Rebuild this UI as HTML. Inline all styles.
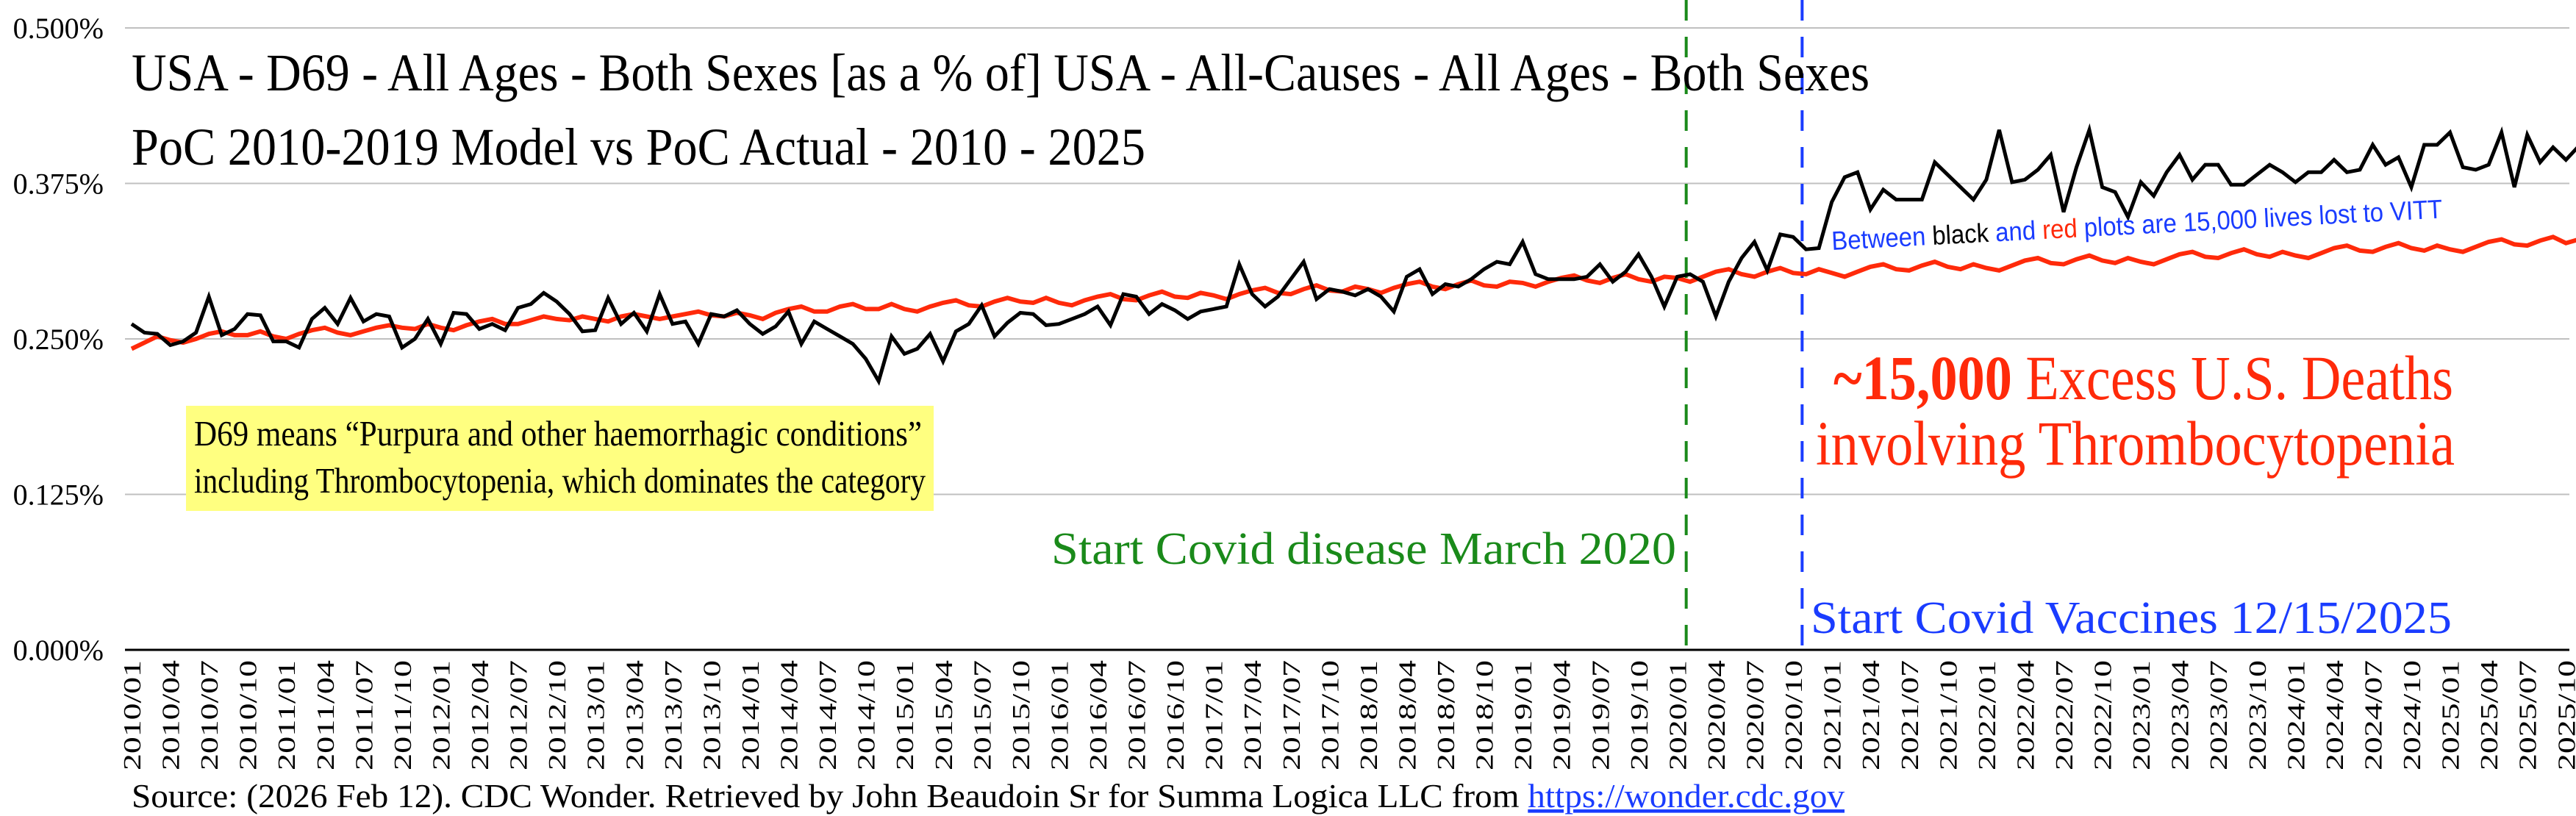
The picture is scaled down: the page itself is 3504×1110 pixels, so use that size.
<!DOCTYPE html>
<html><head><meta charset="utf-8">
<style>
html,body{margin:0;padding:0;background:#fff;}
svg{display:block;}
text{font-family:"Liberation Serif",serif;}
</style></head>
<body>
<svg id="chart" width="3504" height="1110" viewBox="0 0 3504 1110" xmlns="http://www.w3.org/2000/svg">
<g id="grid"></g>
<g id="ylabels"></g>
<g id="xlabels"></g>
<line x1="170" y1="884" x2="3495" y2="884" stroke="#000" stroke-width="3"/>
<g id="vlines"></g>
<g id="series"></g>

<text x="179" y="123" font-size="72" textLength="2364" lengthAdjust="spacingAndGlyphs">USA - D69 - All Ages - Both Sexes [as a % of] USA - All-Causes - All Ages - Both Sexes</text>
<text x="179" y="224" font-size="72" textLength="1379" lengthAdjust="spacingAndGlyphs">PoC 2010-2019 Model vs PoC Actual - 2010 - 2025</text>

<g>
<rect x="253" y="552" width="1017" height="143" fill="#ffff80"/>
<text x="264" y="606" font-size="49" textLength="990" lengthAdjust="spacingAndGlyphs">D69 means “Purpura and other haemorrhagic conditions”</text>
<text x="264" y="670" font-size="49" textLength="995" lengthAdjust="spacingAndGlyphs">including Thrombocytopenia, which dominates the category</text>
</g>

<g fill="#ff2a0a">
<text x="2494" y="543" font-size="86" textLength="843" lengthAdjust="spacingAndGlyphs"><tspan font-weight="bold">~15,000</tspan> Excess U.S. Deaths</text>
<text x="2470" y="632" font-size="86" textLength="869" lengthAdjust="spacingAndGlyphs">involving Thrombocytopenia</text>
</g>

<text x="1430" y="767" font-size="62" fill="#1a8a1a" textLength="850" lengthAdjust="spacingAndGlyphs">Start Covid disease March 2020</text>
<text x="2463" y="861" font-size="62" fill="#1a3cff" textLength="872" lengthAdjust="spacingAndGlyphs">Start Covid Vaccines 12/15/2025</text>

<text x="2492" y="340" font-size="36" transform="rotate(-3 2492 340)" style="font-family:'Liberation Sans',sans-serif" textLength="832" lengthAdjust="spacingAndGlyphs"><tspan fill="#1a3cff">Between </tspan><tspan fill="#000">black </tspan><tspan fill="#1a3cff">and </tspan><tspan fill="#ff2a0a">red </tspan><tspan fill="#1a3cff">plots are 15,000 lives lost to VITT</tspan></text>

<text x="179" y="1098" font-size="46" textLength="2330" lengthAdjust="spacingAndGlyphs">Source: (2026 Feb 12). CDC Wonder. Retrieved by John Beaudoin Sr for Summa Logica LLC from <tspan fill="#1a3cff" text-decoration="underline">https://wonder.cdc.gov</tspan></text>
</svg>
<script>
const yTicks = [0, 0.125, 0.25, 0.375, 0.5];
const yTickLabels = ["0.000%", "0.125%", "0.250%", "0.375%", "0.500%"];
const startYear = 2010;
const actual = [
0.262,0.255,0.254,0.245,0.248,0.255,0.284,0.253,0.258,0.270,0.269,0.248,
0.248,0.243,0.266,0.275,0.262,0.283,0.264,0.270,0.268,0.243,0.250,0.266,
0.246,0.271,0.270,0.258,0.262,0.257,0.275,0.278,0.287,0.280,0.270,0.256,
0.257,0.283,0.262,0.271,0.256,0.286,0.262,0.264,0.246,0.270,0.268,0.273,
0.262,0.254,0.260,0.272,0.246,0.264,0.258,0.252,0.246,0.234,0.216,0.252,
0.238,0.242,0.254,0.232,0.256,0.262,0.277,0.252,0.263,0.271,0.270,0.261,
0.262,0.266,0.270,0.276,0.261,0.286,0.284,0.270,0.278,0.273,0.266,0.272,
0.274,0.276,0.310,0.286,0.276,0.284,0.298,0.312,0.282,0.290,0.288,0.285,
0.290,0.284,0.272,0.300,0.306,0.286,0.294,0.292,0.298,0.306,0.312,0.310,
0.328,0.302,0.298,0.298,0.298,0.300,0.310,0.296,0.304,0.318,0.300,0.276,
0.300,0.302,0.296,0.268,0.296,0.315,0.328,0.305,0.334,0.332,0.322,0.323,
0.360,0.380,0.384,0.354,0.370,0.362,0.362,0.362,0.392,0.382,0.372,0.362,
0.378,0.418,0.376,0.378,0.386,0.398,0.352,0.388,0.418,0.372,0.368,0.348,
0.376,0.365,0.384,0.398,0.378,0.390,0.390,0.374,0.374,0.382,0.390,0.384,
0.376,0.384,0.384,0.394,0.384,0.386,0.406,0.390,0.396,0.372,0.406,0.406,
0.416,0.388,0.386,0.390,0.416,0.372,0.414,0.392,0.404,0.394,0.405
];
const model = [
0.242,0.247,0.252,0.249,0.247,0.250,0.254,0.256,0.253,0.253,0.256,0.252,
0.250,0.254,0.257,0.259,0.255,0.253,0.256,0.259,0.261,0.259,0.258,0.262,
0.259,0.257,0.261,0.264,0.266,0.262,0.262,0.265,0.268,0.266,0.265,0.268,
0.266,0.264,0.268,0.270,0.268,0.266,0.268,0.270,0.272,0.269,0.268,0.271,
0.269,0.266,0.271,0.274,0.276,0.272,0.272,0.276,0.278,0.274,0.274,0.278,
0.274,0.272,0.276,0.279,0.281,0.277,0.276,0.280,0.283,0.280,0.279,0.283,
0.279,0.277,0.281,0.284,0.286,0.282,0.281,0.285,0.288,0.284,0.283,0.287,
0.285,0.282,0.286,0.289,0.291,0.287,0.286,0.290,0.293,0.289,0.288,0.292,
0.290,0.287,0.291,0.294,0.296,0.292,0.290,0.294,0.297,0.293,0.292,0.296,
0.295,0.292,0.296,0.299,0.301,0.297,0.295,0.299,0.302,0.298,0.296,0.300,
0.299,0.296,0.300,0.304,0.306,0.302,0.300,0.304,0.307,0.303,0.302,0.306,
0.303,0.300,0.304,0.308,0.310,0.306,0.305,0.309,0.312,0.308,0.306,0.310,
0.307,0.305,0.309,0.313,0.315,0.311,0.310,0.314,0.317,0.313,0.311,0.315,
0.312,0.310,0.314,0.318,0.320,0.316,0.315,0.319,0.322,0.318,0.316,0.320,
0.317,0.315,0.319,0.323,0.325,0.321,0.320,0.324,0.327,0.323,0.321,0.325,
0.322,0.320,0.324,0.328,0.330,0.326,0.325,0.329,0.332,0.327,0.330
];
const eventIndex = [120.7, 129.7];
const eventColors = ["#1a8a1a", "#1a3cff"];

const NS = "http://www.w3.org/2000/svg";
const X0 = 179, STEP = 17.52, Y0 = 884, YTOP = 38;
function xAt(i){ return X0 + i*STEP; }
function yAt(v){ return Y0 - (v/0.5)*(Y0-YTOP); }
function mk(tag, parent){ const e=document.createElementNS(NS,tag); parent.appendChild(e); return e; }

const grid=document.getElementById('grid'), yl=document.getElementById('ylabels');
yTicks.forEach((t,k)=>{
  if(t>0){
    const l=mk('line',grid);
    
    
    l.setAttribute('x1',170); l.setAttribute('x2',3495);
    l.setAttribute('y1',yAt(t)); l.setAttribute('y2',yAt(t));
    l.setAttribute('stroke','#c0c0c0'); l.setAttribute('stroke-width','2');
  }
  const tx=mk('text',yl);
  
  
  tx.setAttribute('x',141); tx.setAttribute('y',yAt(t)+14);
  tx.setAttribute('text-anchor','end'); tx.setAttribute('font-size','40');
  tx.textContent=yTickLabels[k];
});

const xl=document.getElementById('xlabels');
for(let i=0;i<actual.length;i+=3){
  const yr=startYear+Math.floor(i/12), mo=(i%12)+1;
  const tx=mk('text',xl);
  
  
  const x=xAt(i)+12, y=898;
  tx.setAttribute('x',x); tx.setAttribute('y',y);
  tx.setAttribute('text-anchor','end'); tx.setAttribute('font-size','34');
  tx.setAttribute('textLength','150'); tx.setAttribute('lengthAdjust','spacingAndGlyphs');
  tx.setAttribute('transform','rotate(-90 '+x+' '+y+')');
  tx.textContent=yr+'/'+(mo<10?'0':'')+mo;
}

const vl=document.getElementById('vlines');
eventIndex.forEach((ix,k)=>{
  const l=mk('line',vl);
  
  
  l.setAttribute('x1',xAt(ix)); l.setAttribute('x2',xAt(ix));
  l.setAttribute('y1',0); l.setAttribute('y2',884);
  l.setAttribute('stroke',eventColors[k]); l.setAttribute('stroke-width','4');
  l.setAttribute('stroke-dasharray','28 22');
});

const sg=document.getElementById('series');
function drawLine(arr,color,w,name){
  const p=mk('polyline',sg);
  
  
  p.setAttribute('points',arr.map((v,i)=>xAt(i).toFixed(1)+','+yAt(v).toFixed(1)).join(' '));
  p.setAttribute('fill','none'); p.setAttribute('stroke',color);
  p.setAttribute('stroke-width',w); p.setAttribute('stroke-linejoin','miter');
}
drawLine(model,'#ff2a0a',6,'model-line');
drawLine(actual,'#000',5,'actual-line');
</script>
</body></html>
